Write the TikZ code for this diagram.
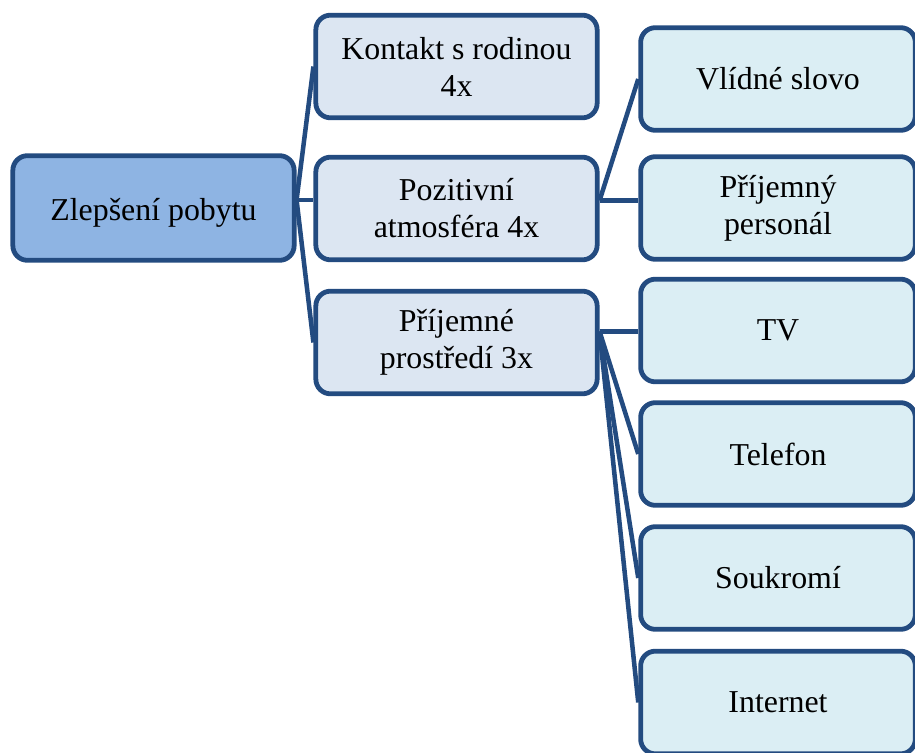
\documentclass[tikz,border=0pt]{standalone}
\usepackage{fontspec}
\setmainfont{Liberation Serif}
\usetikzlibrary{calc,backgrounds}

\definecolor{edgeblue}{RGB}{35,75,128}
\definecolor{rootfill}{RGB}{142,180,227}
\definecolor{midfill}{RGB}{220,230,242}
\definecolor{leaffill}{RGB}{219,238,244}

\tikzset{
  box/.style={draw=edgeblue, line width=3.6pt, rounded corners=11pt,
    align=center, inner sep=0pt, font=\fontsize{23.9}{27.8}\selectfont,
    text=black, minimum height=77pt},
  rootbox/.style={box, fill=rootfill, minimum width=211pt, minimum height=78.5pt},
  midbox/.style={box, fill=midfill, minimum width=211pt},
  leafbox/.style={box, fill=leaffill, minimum width=206pt},
  link/.style={draw=edgeblue, line width=3.4pt}
}

\begin{document}
\begin{tikzpicture}[x=0.75pt, y=-0.75pt]
  \useasboundingbox (0,0) rectangle (915,753);
  \clip (0,0) rectangle (915,753);

  % root
  \node[rootbox] (root) at (153.5,208) {\raisebox{-4pt}[\height][\depth]{Zlepšení pobytu}};

  % second level
  \node[midbox] (kontakt) at (456.5,66.5) {Kontakt s rodinou\\4x};
  \node[midbox] (pozit) at (456.5,208.5) {Pozitivní\\atmosféra 4x};
  \node[midbox] (prostr) at (456.5,342.5) {Příjemné\\prostředí 3x};

  % third level
  \node[leafbox] (slovo) at (778,79) {Vlídné slovo};
  \node[leafbox] (personal) at (778,208) {Příjemný\\personál};
  \node[leafbox] (tv) at (778,330.5) {TV};
  \node[leafbox] (telefon) at (778,454) {Telefon};
  \node[leafbox] (soukromi) at (778,578) {Soukromí};
  \node[leafbox] (internet) at (778,702.5) {Internet};

  % connectors behind the boxes
  \begin{scope}[on background layer]
    \coordinate (rootout) at ($(root.east)+(0,-8)$);
    \draw[link] (rootout) -- (kontakt.west);
    \draw[link] (rootout) -- (rootout -| pozit.west);
    \draw[link] (rootout) -- (prostr.west);

    \coordinate (pozout) at ($(pozit.east)+(0,-8)$);
    \draw[link] (pozout) -- (slovo.west);
    \draw[link] (pozout) -- (pozout -| personal.west);

    \coordinate (prostrout) at ($(prostr.east)+(0,-11)$);
    \draw[link] (prostrout) -- (prostrout -| tv.west);
    \draw[link] (prostrout) -- (telefon.west);
    \draw[link] (prostrout) -- (soukromi.west);
    \draw[link] (prostrout) -- (internet.west);
  \end{scope}
\end{tikzpicture}
\end{document}
